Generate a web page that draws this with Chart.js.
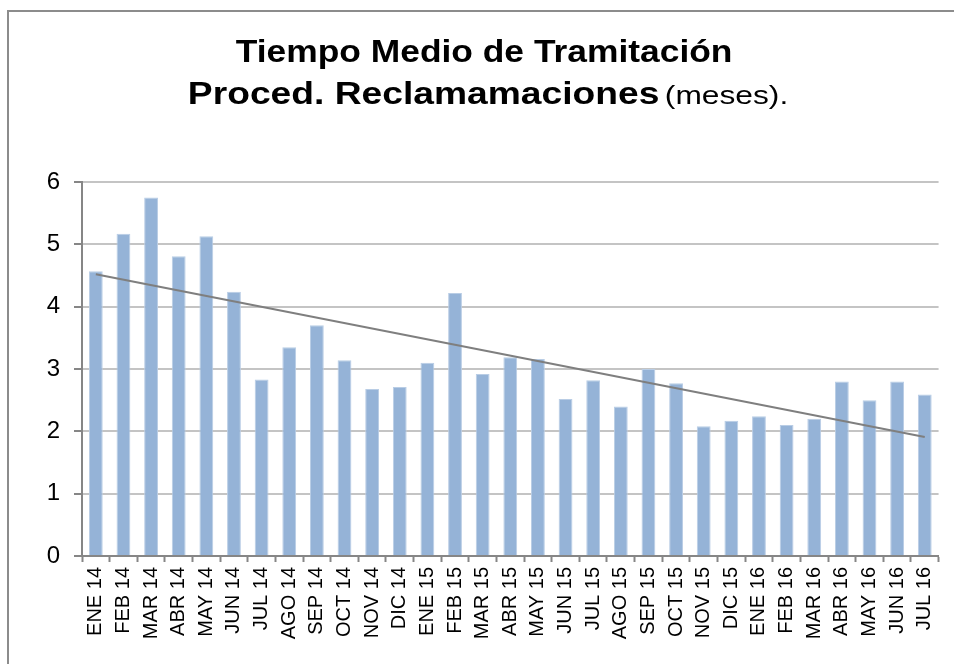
<!DOCTYPE html>
<html>
<head>
<meta charset="utf-8">
<script src="https://cdn.jsdelivr.net/npm/chart.js@4/dist/chart.umd.min.js"></script>
<style>
  html, body { margin: 0; padding: 0; background: #fff; overflow: hidden; }
  #wrap { position: relative; width: 954px; height: 664px; }
  #frame { position: absolute; left: 7px; top: 10px; width: 960px; height: 700px; border: 2px solid #8c8c8c; box-sizing: border-box; }
  #title { position: absolute; left: 0; top: 31px; width: 954px; text-align: center; font-family: "Liberation Sans", Arial, sans-serif; color: #000; }
  .line { line-height: 40px; white-space: nowrap; }
  .inner { display: inline-block; transform: scaleX(1.16); transform-origin: center; }
  .inner2 { display: inline-block; transform: scaleX(1.22); transform-origin: center; }
  .b { font-weight: bold; font-size: 30.5px; }
  .n { font-weight: normal; font-size: 26px; }
  canvas { position: absolute; left: 0; top: 0; }
</style>
</head>
<body>
<div id="wrap">
  <div id="frame"></div>
  <canvas id="c" width="954" height="664"></canvas>
  <div id="title">
    <div class="line" style="padding-left:14px"><span class="inner"><span class="b">Tiempo Medio de Tramitación</span></span></div>
    <div class="line" style="padding-left:22px; margin-top:-4px"><span class="inner2"><span class="b">Proced. Reclamamaciones</span> <span class="n">(meses).</span></span></div>
  </div>
</div>
<script>
const categories = ["ENE 14","FEB 14","MAR 14","ABR 14","MAY 14","JUN 14","JUL 14","AGO 14","SEP 14","OCT 14","NOV 14","DIC 14",
                    "ENE 15","FEB 15","MAR 15","ABR 15","MAY 15","JUN 15","JUL 15","AGO 15","SEP 15","OCT 15","NOV 15","DIC 15",
                    "ENE 16","FEB 16","MAR 16","ABR 16","MAY 16","JUN 16","JUL 16"];
const tiempoMedio = [4.57,5.17,5.75,4.81,5.13,4.24,2.83,3.35,3.70,3.14,2.68,2.71,
                     3.10,4.22,2.92,3.19,3.16,2.52,2.82,2.40,3.00,2.77,2.08,2.17,
                     2.24,2.10,2.20,2.80,2.50,2.80,2.59];
const trendEnds = [4.52, 1.91];
const yTicks = [0,1,2,3,4,5,6];

const trendData = categories.map((_, i) => i === 0 ? trendEnds[0] : (i === categories.length - 1 ? trendEnds[1] : null));

Chart.defaults.font.family = 'Liberation Sans, Arial, sans-serif';
Chart.defaults.font.size = 20;
Chart.defaults.color = '#000';

new Chart(document.getElementById('c'), {
  type: 'bar',
  data: {
    labels: categories,
    datasets: [
      {
        type: 'line',
        label: 'Tendencia',
        data: trendData,
        borderColor: '#7f7f7f',
        borderWidth: 2,
        pointRadius: 0,
        spanGaps: true,
        fill: false,
        order: 0
      },
      {
        label: 'Tiempo medio',
        data: tiempoMedio,
        backgroundColor: '#95b3d7',
        borderColor: '#b9cde5',
        borderWidth: 1,
        barPercentage: 0.5,
        categoryPercentage: 1.0,
        order: 1
      }
    ]
  },
  options: {
    responsive: false,
    animation: false,
    layout: { padding: { left: 0, right: 15, top: 182, bottom: 0 } },
    plugins: { legend: { display: false }, title: { display: false }, tooltip: { enabled: false } },
    scales: {
      x: {
        offset: true,
        afterFit: s => { s.height = 108; },
        grid: { display: true, drawOnChartArea: false, drawTicks: true, tickLength: 6, offset: true, tickColor: '#868686', tickWidth: 2 },
        border: { display: true, color: '#868686', width: 2 },
        ticks: { minRotation: 90, maxRotation: 90, autoSkip: false, padding: 5, color: '#000',
                 font: { size: 20 } }
      },
      y: {
        min: 0, max: 6,
        afterFit: s => { s.width = 82; },
        afterBuildTicks: s => { s.ticks = yTicks.map(v => ({ value: v })); },
        grid: { color: '#c4c4c4', lineWidth: 2, drawTicks: true, tickLength: 8, tickColor: '#868686', tickWidth: 2 },
        border: { display: true, color: '#868686', width: 2 },
        ticks: { padding: 14, color: '#000', font: { size: 24 } }
      }
    }
  }
});
</script>
</body>
</html>
